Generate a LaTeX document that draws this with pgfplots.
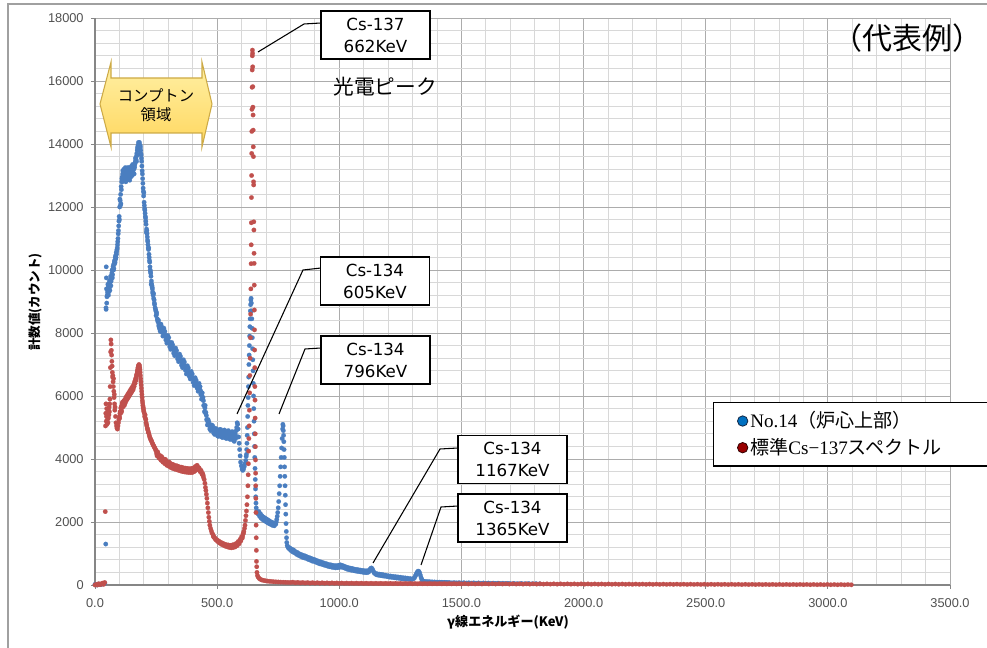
\documentclass[border=0pt]{standalone}
\usepackage{fontspec}
\usepackage{pgfplots}
\pgfplotsset{compat=1.18}
\usetikzlibrary{shadings}
\setmainfont{Liberation Sans}
\newfontfamily\cjk{Noto Sans CJK JP}
\newfontfamily\lserif{Liberation Serif}
\newfontfamily\dvs{DejaVu Sans}
\newfontfamily\lsans{Liberation Sans}
\definecolor{blu}{RGB}{74,126,192}
\definecolor{rd}{RGB}{192,80,77}
\definecolor{majg}{RGB}{172,172,172}
\definecolor{ming}{RGB}{216,216,216}
\definecolor{axg}{RGB}{134,134,134}
\definecolor{tickt}{RGB}{80,80,80}
\definecolor{legb}{RGB}{0,112,192}
\definecolor{legr}{RGB}{153,0,0}
\definecolor{ylt}{RGB}{255,240,165}
\definecolor{ydk}{RGB}{255,215,95}
\definecolor{yedge}{RGB}{205,170,70}
\begin{document}
\begin{tikzpicture}
\path[use as bounding box] (0pt,0pt) rectangle (740.25pt,486pt);
\begin{axis}[
  at={(71.25pt,47.25pt)}, anchor=south west,
  scale only axis, width=641.25pt, height=425.25pt,
  xmin=0, xmax=3500, ymin=0, ymax=18000,
  axis lines=left, axis line style={-, draw=axg, line width=0.8pt},
  xtick={0,500,...,3500},
  xticklabels={0.0,500.0,1000.0,1500.0,2000.0,2500.0,3000.0,3500.0},
  ytick={0,2000,...,18000},
  yticklabels={0,2000,4000,6000,8000,10000,12000,14000,16000,18000},
  scaled x ticks=false, scaled y ticks=false,
  minor x tick num=4, minor y tick num=4,
  grid=both,
  major grid style={draw=majg, line width=0.6pt},
  minor grid style={draw=ming, line width=0.6pt},
  tick align=outside, major tick length=3pt, minor tick length=0pt,
  tick style={draw=axg, line width=0.6pt},
  /pgf/number format/assume math mode=true,
  tick label style={font=\lsans\fontsize{9.6}{11}\selectfont, text=tickt},
  xticklabel style={yshift=-3.5pt},
  yticklabel style={xshift=-2pt},
  clip=false,
  xlabel={\bfseries γ線エネルギー(KeV)},
  ylabel={\bfseries 計数値(カウント)},
  xlabel style={font=\cjk\fontsize{9.8}{12}\selectfont, at={(axis description cs:0.483,-0.0653)}, anchor=center},
  ylabel style={font=\cjk\fontsize{9.4}{11}\selectfont, at={(axis description cs:-0.0702,0.499)}, anchor=center, rotate=0},
  legend style={
    at={(0.7228,0.3228)}, anchor=north west,
    draw=black, line width=1.1pt, fill=white,
    inner xsep=17.5pt, inner ysep=7pt,
    row sep=6.5pt,
    font=\cjk\fontsize{14.3}{17}\selectfont,
    nodes={inner sep=0pt, text height=11.5pt, text depth=2pt},
    /tikz/every odd column/.append style={column sep=1.5pt},
  },
  legend cell align=left,
]
\addplot[only marks, mark=*, mark size=1.7pt, mark options={draw=blu, fill=blu, line width=0.1pt}, forget plot] coordinates {
(0,20) (8,0) (16,30) (24,10) (32,40) (40,50)
(44,1300) (45,8800) (45.5,8750) (46,10100) (46.5,9750) (47,9400) (48,8950) (49,9150) (51,9300) (53,9550) (55,9200) (57,9450) (59,9650) (61,9350) (63,9700) (65,9500) (67,9800) (69,9900) (71,9750) (73,10000) (75,10150) (77,10050) (79,10250) (81,10200) (83,10400) (85,10350) (87,10550) (89,10600) (91,10700) (93,10900) (95,11150) (97,11400) (99,11700) (101,12000) (103,12200) (105,12400) (107,12650) (109,12800) (111,12950) (113,13050) (115,12900) (117,13100) (119,12950) (121,13150) (123,13000) (125,13100) (127,12900) (129,13150) (131,13000) (133,13100) (135,12950) (137,13150) (139,13000) (141,13100) (143,13000) (145,13150) (147,13050) (149,13200) (151,13100) (153,13250) (155,13150) (157,13250) (159,13200) (161,13300) (163,13350) (165,13450) (167,13550) (169,13600) (171,13700) (173,13800) (175,13850) (177,13950) (179,14000) (181,14000) (183,13900) (185,13950) (187,13800) (189,13650) (191,13450) (193,13150) (195,12900) (197,12600) (199,12350) (201,12150) (203,11950) (205,11800) (207,11650) (209,11450) (211,11300) (213,11150) (215,10950) (217,10800) (219,10650) (221,10500) (223,10300) (225,10100) (227,9950) (229,9800) (231,9650) (233,9500) (235,9400) (237,9250) (240,9100) (243,8950) (246,8800) (249,8700) (252,8600) (255,8450) (258,8350) (261,8250) (264,8150) (267,8050)
(106,12100) (118,13200) (126,12800) (134,13250) (142,12850) (150,13300) (160,13050) (170,13450) (200,12450) (210,11200) (220,10700) (230,9550) (240,9250) (250,8550) (260,8400)
(50,9200) (52,9400) (54,9500) (56,9300) (58,9550) (60,9450) (62,9600) (64,9800) (66,9650) (68,9750) (70,10000) (72,9850) (74,10100) (76,10000) (78,10200) (80,10300) (82,10250) (84,10450) (86,10400) (88,10500) (90,10650) (92,10800) (94,11000) (96,11250) (98,11550)
(100,11600) (102,12250) (104,12050) (108,12550) (110,12900) (112,12800) (114,13150) (116,12850) (120,13050) (122,12900) (124,13250) (128,13050) (130,12850) (132,13200) (136,13100) (138,12900) (140,13250) (144,13100) (146,12950) (148,13250) (152,13000) (154,13350) (156,13100) (158,13300) (162,13250) (164,13400) (166,13550) (168,13500) (172,13650) (174,13900) (176,13800) (178,14050) (180,13900) (182,14050) (184,13850) (186,13900) (188,13700) (190,13550) (192,13300) (194,13050) (196,12750) (198,12500) (202,12050) (204,11900) (206,11700) (208,11550) (212,11250) (214,11050) (216,10900) (218,10700) (222,10400) (224,10250) (226,10000) (228,9900) (232,9550) (234,9450) (236,9300) (238,9200) (242,9050) (244,8900) (248,8750) (252,8650) (256,8400) (262,8200) (266,8100)
(270,8280) (274,8020) (278,7900) (282,8150) (286,8050) (290,7780) (294,7680) (298,7920) (302,7850) (306,7560) (310,7480) (314,7700) (318,7620) (322,7360) (326,7280) (330,7520) (334,7440) (338,7180) (342,7090) (346,7330) (350,7260) (354,6980) (358,6900) (362,7150) (366,7080) (370,6820) (374,6700) (378,6960) (382,6890) (386,6620) (390,6540) (394,6780) (398,6700) (402,6430) (406,6330) (410,6580) (414,6500) (418,6250) (422,6150) (426,6400) (430,6300) (433,6050) (436,5900) (439,6100) (442,5950) (445,5700) (448,5500) (451,5700) (454,5480) (457,5250) (460,5080) (463,5250) (466,5180) (470,4950) (474,4900) (478,5080) (482,5050) (486,4820) (490,4780) (494,4970) (498,4950) (502,4730) (506,4720) (510,4930) (514,4940) (518,4700) (522,4680) (526,4900) (530,4920) (534,4670) (538,4650) (542,4880) (546,4900) (550,4640) (554,4620) (558,4850) (562,4870) (566,4600) (570,4560) (573,4800) (576,4650) (578,4900)
(272,8150) (280,8030) (288,7920) (296,7800) (304,7700) (312,7600) (320,7490) (328,7390) (336,7300) (344,7200) (352,7120) (360,7030) (368,6930) (376,6840) (384,6750) (392,6650) (400,6560) (408,6460) (416,6370) (424,6280) (432,6170) (438,6000) (444,5850) (450,5620) (456,5380) (462,5180) (468,5070) (476,4990) (484,4930) (492,4880) (500,4850) (508,4830) (516,4820) (524,4800) (532,4790) (540,4780) (548,4770) (556,4760) (564,4740) (572,4700)
(276,8180) (284,7960) (292,7870) (300,7740) (308,7650) (316,7540) (324,7440) (332,7330) (340,7260) (348,7150) (356,7070) (364,6980) (372,6880) (380,6800) (388,6700) (396,6600) (404,6520) (412,6410) (420,6320) (428,6230) (435,6080) (441,5900) (447,5700) (453,5450) (459,5250) (465,5100) (472,5030) (480,4960) (488,4900) (496,4870) (504,4800) (512,4860) (520,4780) (528,4840) (536,4750) (544,4820) (552,4720) (560,4790) (568,4680) (575,4760)
(580,5000) (582,5150) (584,5100) (586,4950) (588,4700) (590,4500) (592,4300) (594,4100) (596,3900) (599,3780) (602,3680) (605,3640) (608,3680) (611,3760) (614,3850) (617,3950) (619,4080)
(620,4150) (621,4300) (622,4500) (623,4750) (624,5000) (625,5350) (626,5700) (627,5950) (628,6300) (629,6600) (630,7000) (631,7300) (632,7600) (633,7900) (634,8200) (635,8450) (636,8700) (637,8900) (638,9050) (639,9100) (640,8950)
(641,8700) (642,8450) (643,8150) (644,7850) (645,7500) (646,7150) (647,6800) (648,6400) (649,6000) (650,5600) (651,5200) (652,4800) (653,4400) (654,4050) (655,3700) (656,3350) (657,3050) (658,2800) (659,2600) (660,2450) (662,2350) (665,2300)
(668,2250) (671,2330) (674,2180) (677,2260) (680,2120) (683,2200) (686,2080) (689,2160) (692,2050) (695,2130) (698,2020) (701,2100) (704,1990) (707,2070) (710,1960) (713,2040) (716,1940) (719,2010) (722,1910) (725,1990) (728,1890) (731,1960) (734,1880) (737,1950) (740,1930) (742,2000) (744,2080) (746,2180) (748,2300) (750,2450) (752,2650) (754,2900) (756,3150) (758,3450) (760,3750) (762,4050) (764,4350) (766,4650) (768,4950) (769,5100) (770,5050) (771,4900) (772,4750) (773,4550) (774,4300) (775,4050) (776,3750) (777,3450) (778,3150) (779,2850) (780,2550) (781,2250) (782,1950) (783,1700) (784,1500) (785,1350) (787,1250) (790,1200) (793,1160)
(797,1180) (801,1100) (805,1140) (809,1050) (813,1110) (817,1020) (821,1060) (825,975) (829,1030) (833,940) (837,990) (841,910) (845,965) (849,880) (853,940) (857,860) (861,920) (865,840) (869,890) (873,810) (877,870) (881,790) (885,845) (889,760) (893,820) (897,745) (901,800) (905,720) (909,775) (913,695) (917,750) (921,670) (925,730) (929,655) (933,710) (937,635) (941,690) (945,615) (949,670) (953,595) (957,650) (961,580) (965,640) (969,565) (973,625) (977,555) (981,615) (985,545) (989,615) (993,550) (997,625) (1001,560) (1005,640) (1009,570) (1013,620) (1017,550) (1021,595) (1025,525) (1029,570) (1033,500) (1037,550) (1041,485) (1045,535) (1049,470) (1053,525) (1057,460) (1061,505) (1065,445) (1069,495) (1073,435) (1077,485) (1081,425) (1085,475) (1089,415) (1093,465) (1097,405) (1101,455) (1105,395) (1109,450) (1113,390) (1117,455) (1120,410)
(799,1140) (807,1100) (815,1060) (823,1020) (831,980) (839,950) (847,920) (855,900) (863,880) (871,850) (879,830) (887,800) (895,780) (903,760) (911,730) (919,710) (927,690) (935,670) (943,650) (951,630) (959,615) (967,600) (975,590) (983,580) (991,580) (999,590) (1007,600) (1015,585) (1023,560) (1031,535) (1039,515) (1047,500) (1055,490) (1063,475) (1071,465) (1079,455) (1087,445) (1095,435) (1103,425) (1111,420)
(1123,460) (1126,500) (1129,530) (1132,540) (1135,510) (1138,460) (1141,410) (1144,370) (1148,370) (1152,325) (1156,355) (1160,310) (1164,345) (1168,300) (1172,335) (1176,290) (1180,325) (1184,280) (1190,310) (1195,265) (1200,295) (1205,250) (1210,285) (1215,240) (1220,275) (1225,230) (1230,265) (1235,220) (1240,255) (1245,210) (1250,245) (1255,200) (1260,235) (1265,190) (1270,225) (1275,185) (1280,215) (1285,180) (1290,205) (1295,175)
(1150,348) (1158,333) (1166,322) (1174,312) (1182,302) (1192,288) (1202,273) (1212,262) (1222,252) (1232,242) (1242,232) (1252,222) (1262,212) (1272,204) (1282,197) (1292,190)
(1300,190) (1304,200) (1308,230) (1311,280) (1314,330) (1317,380) (1320,420) (1323,440) (1326,430) (1329,380) (1332,310) (1335,230) (1338,170) (1341,135) (1344,120)
(1350,115) (1355,95) (1360,110) (1365,90) (1370,105) (1375,85) (1380,100) (1385,82) (1390,96) (1395,80) (1400,92) (1405,78) (1410,90) (1415,75) (1420,88) (1425,73) (1430,85) (1435,72) (1440,83) (1445,70) (1450,80) (1460,68) (1470,78) (1480,66) (1490,75) (1500,64) (1510,73) (1520,62) (1530,70) (1540,60) (1550,68) (1560,58) (1570,66) (1580,56) (1590,64) (1600,55) (1610,62) (1620,53) (1630,60) (1640,52) (1650,58) (1660,50) (1670,56) (1680,48) (1690,54) (1700,46) (1715,52) (1730,44) (1745,50) (1760,42) (1775,48) (1790,40) (1805,45) (1820,38)
};
\addplot[only marks, mark=*, mark size=1.7pt, mark options={draw=rd, fill=rd, line width=0.1pt}, forget plot] coordinates {
(0,0) (5,20) (10,0) (15,40) (20,10) (25,30) (30,60) (35,20) (40,80)
(42,2330) (43,5050) (44,5450) (45,5750) (46,5200) (47,5350) (48,5600) (49,5100) (50,5400) (51,5250) (52,5500) (53,5150) (54,5450) (55,5300) (56,5550) (57,5400) (58,5650) (59,5500) (60,5750) (61,5900)
(62,6300) (63,6900) (64,7400) (65,7780) (66,7650) (67,7450) (68,7300) (69,7100) (70,6950) (71,6750) (72,6600) (73,6650) (74,6450) (75,6300) (76,6550) (77,6150) (78,5950) (79,6050) (80,5750) (81,5550) (82,5650) (84,5350) (86,5150) (88,5050) (90,4980) (92,4950) (94,5050) (96,5150) (98,5250) (100,5350) (102,5450) (104,5500) (106,5620) (108,5550) (110,5700) (112,5800) (114,5650) (116,5750) (118,5850) (120,5700) (122,5880) (124,5780) (126,5950) (128,5850) (130,6000) (132,5900) (134,6050) (136,5950) (138,6100) (140,6000) (142,6150) (144,6050) (146,6200) (148,6100) (150,6250) (152,6150) (154,6300) (156,6200) (158,6350) (160,6300) (162,6450) (164,6400) (166,6550) (168,6500) (170,6650) (172,6700) (174,6800) (176,6900) (178,6950) (180,7000) (182,6950) (184,6850) (186,6650) (188,6450) (190,6250) (192,6050) (194,5850) (196,5700) (198,5600) (200,5500) (202,5450) (205,5400) (208,5250) (211,5100) (214,4980) (217,4900) (220,4820) (224,4700) (228,4620) (232,4560) (236,4480) (240,4420) (244,4360) (248,4300)
(101,5300) (103,5500) (105,5450) (107,5650) (109,5500) (111,5750) (113,5700) (115,5800) (117,5700) (119,5800) (121,5750) (123,5850) (125,5850) (127,5900) (129,5900) (131,5950) (133,5980) (135,6000) (137,6000) (139,6050) (141,6080) (143,6100) (145,6120) (147,6150) (149,6180) (151,6200) (153,6220) (155,6250) (157,6280) (159,6300) (161,6380) (163,6420) (165,6480) (167,6520) (169,6600) (171,6680) (173,6760) (175,6850) (177,6920) (179,6980) (181,6980) (183,6900) (185,6750) (187,6550) (189,6350) (191,6150) (193,5950) (195,5780) (197,5650) (199,5550)
(203,5350) (206,5300) (209,5150) (212,5050) (215,4950) (218,4850) (222,4760) (226,4660) (230,4590) (234,4520) (238,4450) (242,4390) (246,4330)
(250,4250) (254,4100) (258,4180) (262,4030) (266,4110) (270,3960) (274,4050) (278,3900) (282,4000) (286,3850) (290,3950) (294,3800) (298,3910) (302,3770) (306,3870) (310,3730) (314,3840) (318,3700) (322,3810) (326,3680) (330,3790) (334,3660) (338,3770) (342,3640) (346,3750) (350,3620) (354,3740) (358,3600) (362,3720) (366,3590) (370,3710) (374,3580) (378,3700) (382,3570) (386,3690) (390,3570) (394,3700) (398,3570) (402,3710) (406,3600) (410,3760) (414,3650) (418,3800) (422,3680) (426,3720) (430,3600) (434,3640) (438,3520) (441,3540) (444,3420) (447,3350) (450,3230)
(252,4170) (260,4100) (268,4030) (276,3970) (284,3920) (292,3870) (300,3840) (308,3800) (316,3770) (324,3740) (332,3720) (340,3700) (348,3680) (356,3670) (364,3650) (372,3640) (380,3630) (388,3630) (396,3630) (404,3650) (412,3700) (420,3740) (428,3660) (436,3580) (443,3480)
(256,4230) (264,4060) (272,4080) (280,3930) (288,3990) (296,3830) (304,3900) (312,3760) (320,3820) (328,3700) (336,3780) (344,3660) (352,3730) (360,3620) (368,3700) (376,3600) (384,3680) (392,3590) (400,3690) (408,3620) (416,3780) (424,3700) (432,3610) (440,3500)
(452,3100) (454,3000) (456,2880) (458,2750) (460,2600) (462,2450) (464,2300) (466,2150) (468,2020) (470,1900) (473,1800) (476,1720) (479,1650)
(483,1600) (486,1520) (490,1500) (494,1440) (498,1440) (502,1380) (506,1400) (510,1330) (514,1360) (518,1290) (522,1330) (526,1260) (530,1300) (534,1230) (538,1280) (542,1210) (546,1270) (550,1190) (554,1260) (558,1180) (562,1270) (566,1190) (570,1290) (574,1210) (578,1320) (582,1250) (586,1380) (590,1310) (594,1450) (597,1400) (600,1530) (603,1490) (606,1620) (609,1700) (612,1800) (614,1900) (616,2050) (618,2200)
(484,1560) (488,1510) (492,1470) (496,1440) (500,1410) (504,1390) (508,1365) (512,1345) (516,1325) (520,1310) (524,1295) (528,1280) (532,1265) (536,1255) (540,1245) (544,1240) (548,1230) (552,1225) (556,1220) (560,1225) (564,1230) (568,1240) (572,1250) (576,1265) (580,1285) (584,1315) (588,1345) (592,1380) (596,1425) (600,1480) (604,1550) (608,1650)
(620,2350) (622,2550) (624,2800) (626,3150) (627,3500) (628,3850) (629,4250) (630,4650) (631,5050) (632,5550) (633,6100) (634,6650) (635,7200) (636,7850) (637,8600) (638,9400) (639,10200) (639.5,10800) (640,11500) (640.5,12300) (641,13000) (641.5,13700) (642,14400) (642.5,15100) (643,15800) (643.5,16350) (644,16800) (644.5,16980)
(645,16880) (645.5,16450) (646,15820) (646.5,15170) (647,14920) (647.5,14440) (648,13910) (648.5,13600) (649,12800) (649.5,12700) (650,11530) (650.5,11270) (651,10530) (651.5,10210) (652,9520) (652.5,8730) (653,8100) (653.5,7460) (654,6900) (654.5,6300) (655,5870) (655.5,5300) (656,4800) (656.5,4390) (657,3970) (657.5,3550) (658,3150) (658.5,2750) (659,2300) (659.5,1900) (660,1500) (660.5,1100) (661,750) (662,580) (663,400) (665,300) (668,250) (672,210) (677,180) (683,160) (690,145) (697,135) (705,125) (713,118) (721,112) (730,106) (740,100) (750,96) (760,92) (770,88) (780,85) (790,82) (800,80)
(810,90) (820,72) (830,84) (840,68) (850,80) (860,65) (870,77) (880,62) (890,74) (900,60) (910,72) (920,58) (930,70) (940,56) (950,68) (960,55) (970,66) (980,54) (990,64) (1000,52) (1010,62) (1020,51) (1030,61) (1040,50) (1050,60) (1060,49) (1070,59) (1080,48) (1090,58) (1100,47) (1110,57) (1120,46) (1130,56) (1140,45) (1150,55) (1160,45) (1170,54) (1180,44) (1190,53) (1200,43) (1210,52) (1220,42) (1230,51) (1240,42) (1250,50) (1260,41) (1270,50) (1280,40) (1290,49) (1300,40) (1310,48) (1320,39) (1330,48) (1340,39) (1350,47) (1360,38) (1370,47) (1380,38) (1390,46) (1400,37) (1410,46) (1420,37) (1430,45) (1440,36) (1450,45) (1460,36) (1470,44) (1480,35) (1490,44) (1500,35)
(1514,43) (1528,34) (1542,42) (1556,34) (1570,41) (1584,33) (1598,41) (1612,33) (1626,40) (1640,32) (1654,40) (1668,32) (1682,39) (1696,31) (1710,39) (1724,31) (1738,38) (1752,30) (1766,38) (1780,30) (1794,37) (1808,29) (1822,37) (1836,29) (1850,36) (1864,28) (1878,36) (1892,28) (1906,35) (1920,27) (1934,35) (1948,27) (1962,34) (1976,26) (1990,34) (2004,26) (2018,33) (2032,25) (2046,33) (2060,25) (2074,32) (2088,24) (2102,32) (2116,24) (2130,31) (2144,23) (2158,31) (2172,23) (2186,30) (2200,22) (2214,30) (2228,22) (2242,29) (2256,21) (2270,29) (2284,21) (2298,28) (2312,20) (2326,28) (2340,20) (2354,27) (2368,19) (2382,27) (2396,19) (2410,26) (2424,18) (2438,26) (2452,18) (2466,25) (2480,17) (2494,25) (2508,17) (2522,24) (2536,16) (2550,24) (2564,16) (2578,23) (2592,15) (2606,23) (2620,15) (2634,22) (2648,14) (2662,22) (2676,14) (2690,21) (2704,13) (2718,21) (2732,13) (2746,20) (2760,12) (2774,20) (2788,12) (2802,19) (2816,11) (2830,19) (2844,11) (2858,18) (2872,10) (2886,18) (2900,10) (2914,17) (2928,9) (2942,17) (2956,9) (2970,16) (2984,8) (2998,16) (3012,8) (3026,15) (3040,7) (3054,15) (3068,6) (3082,14) (3096,6)
};
\addlegendimage{legend image code/.code={\filldraw[fill=legb, draw={rgb,255:red,20;green,40;blue,70}, line width=0.6pt] (0pt,0pt) circle (3.9pt);}}
\addlegendentry{\makebox[260pt][l]{{\lserif No.14}（炉心上部）}}
\addlegendimage{legend image code/.code={\filldraw[fill=legr, draw={rgb,255:red,50;green,0;blue,0}, line width=0.6pt] (0pt,0pt) circle (3.9pt);}}
\addlegendentry{\makebox[260pt][l]{標準{\lserif Cs−137}スペクトル}}
\end{axis}
\begin{scope}[x=0.75pt, y=-0.75pt, shift={(0pt,486pt)}]
  % outer frame
  \draw[draw={rgb,255:red,160;green,160;blue,160}, line width=1.4pt] (8,650) -- (8,4) -- (995,4);
  % Compton arrow
  \draw[draw=yedge, line width=0.8pt, top color=ylt, bottom color=ydk]
    (100,104) -- (111,62) -- (111,78) -- (202,78) -- (202,62) -- (212,104) -- (202,147) -- (202,133) -- (111,133) -- (111,147) -- cycle;
  \node[font=\cjk\fontsize{11.5}{13}\selectfont, inner sep=0pt] at (156,95) {コンプトン};
  \node[font=\cjk\fontsize{11.5}{13}\selectfont, inner sep=0pt] at (156,115) {領域};
  % texts
  \node[font=\cjk\fontsize{15.5}{18}\selectfont, inner sep=0pt] at (385,87) {光電ピーク};
  \node[font=\cjk\fontsize{22.5}{26}\selectfont, inner sep=0pt] at (907,38) {（代表例）};
  % leaders
  \draw[black, line width=0.8pt] (258,52) -- (304,24) -- (321,23);
  \draw[black, line width=0.8pt] (237,414) -- (303,270) -- (321,268);
  \draw[black, line width=0.8pt] (279,414) -- (305,349) -- (321,348);
  \draw[black, line width=0.8pt] (373,563) -- (440,449) -- (458,448);
  \draw[black, line width=0.8pt] (421,565) -- (441,507) -- (458,506);
  % boxes
  \tikzset{cbox/.style={draw=black, line width=0.9pt, fill=white, minimum width=81.75pt, minimum height=36pt, align=center, inner sep=0pt, font=\dvs\fontsize{12.5}{16.5}\selectfont}}
  \node[cbox] at (375.5,35) {Cs-137\\662KeV};
  \node[cbox] at (375,281) {Cs-134\\605KeV};
  \node[cbox] at (375.5,360) {Cs-134\\796KeV};
  \node[cbox] at (512.5,459.5) {Cs-134\\1167KeV};
  \node[cbox] at (512.5,518) {Cs-134\\1365KeV};
\end{scope}
\end{tikzpicture}
\end{document}
